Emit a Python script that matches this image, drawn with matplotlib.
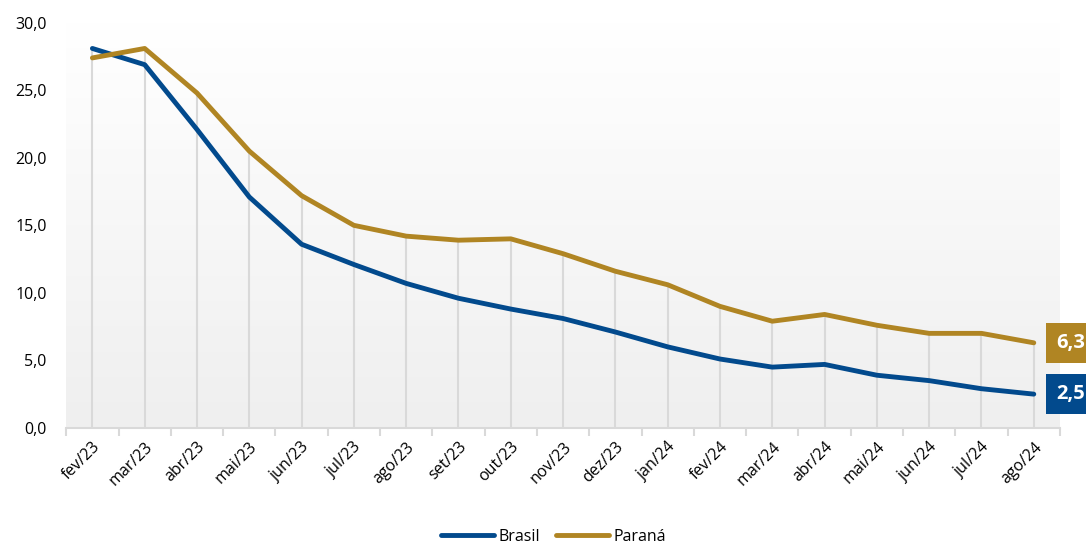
import numpy as np
import matplotlib.pyplot as plt
from matplotlib.colors import LinearSegmentedColormap

plt.rcParams['font.family'] = ['Open Sans', 'DejaVu Sans']

# data
meses = ['fev/23', 'mar/23', 'abr/23', 'mai/23', 'jun/23', 'jul/23', 'ago/23',
         'set/23', 'out/23', 'nov/23', 'dez/23', 'jan/24', 'fev/24', 'mar/24',
         'abr/24', 'mai/24', 'jun/24', 'jul/24', 'ago/24']
brasil = [28.1, 26.9, 22.1, 17.1, 13.6, 12.1, 10.7, 9.6, 8.8, 8.1, 7.1, 6.0,
          5.1, 4.5, 4.7, 3.9, 3.5, 2.9, 2.5]
parana = [27.4, 28.1, 24.8, 20.5, 17.2, 15.0, 14.2, 13.9, 14.0, 12.9, 11.6,
          10.6, 9.0, 7.9, 8.4, 7.6, 7.0, 7.0, 6.3]

azul = '#024A8D'
ouro = '#B08523'

fig = plt.figure(figsize=(10.86, 5.43), dpi=100)
ax = fig.add_axes([0.061, 0.212, 0.915, 0.746])

x = np.arange(len(meses))
n = len(meses)

# fundo em degradê
grad = np.linspace(0, 1, 256).reshape(-1, 1)
cmap = LinearSegmentedColormap.from_list('g', ['#EFEFEF', '#FFFFFF'])
ax.imshow(grad, extent=[-0.5, n - 0.5, 0, 30], aspect='auto', cmap=cmap,
          origin='lower', zorder=0)

# linhas verticais até a série mais alta
topo = np.maximum(brasil, parana)
ax.vlines(x, 0, topo, color='#D9D9D9', lw=1.5, zorder=1)

ax.plot(x, brasil, color=azul, lw=3.5, label='Brasil', zorder=3, solid_capstyle='round')
ax.plot(x, parana, color=ouro, lw=3.5, label='Paraná', zorder=3, solid_capstyle='round')

ax.set_xlim(-0.5, n - 0.5)
ax.set_ylim(0, 30)
ax.set_yticks(np.arange(0, 31, 5))
ax.set_yticklabels([f'{v:.1f}'.replace('.', ',') for v in np.arange(0, 31, 5)], fontsize=11.5)
ax.set_xticks(x)
ax.set_xticklabels(meses, rotation=45, ha='right', rotation_mode='anchor', fontsize=11.5)
ax.set_xticks(np.arange(-0.5, n, 1), minor=True)
ax.tick_params(axis='x', which='major', length=0, pad=8)
ax.tick_params(axis='x', which='minor', length=6, color='#D9D9D9', width=1.5)
ax.tick_params(axis='y', length=0, pad=14)

for s in ['top', 'right', 'left']:
    ax.spines[s].set_visible(False)
ax.spines['bottom'].set_color('#D9D9D9')
ax.spines['bottom'].set_linewidth(1.5)

# rótulos do último valor, encostados na borda direita
for serie, cor in [(parana, ouro), (brasil, azul)]:
    ax.annotate(f'{serie[-1]:.1f}'.replace('.', ','), xy=(n - 0.5, serie[-1]),
                xytext=(n - 0.57, serie[-1]), textcoords='data', color='white',
                fontsize=14.5, fontweight='bold', va='center', ha='left',
                bbox=dict(boxstyle='square,pad=0.5', fc=cor, ec='none'),
                annotation_clip=False)

fig.legend(loc='lower center', bbox_to_anchor=(0.51, -0.03), ncol=2,
           frameon=False, fontsize=11.5, handlelength=3.3,
           columnspacing=1.0, handletextpad=0.3)

fig.savefig('out.png', dpi=100)
